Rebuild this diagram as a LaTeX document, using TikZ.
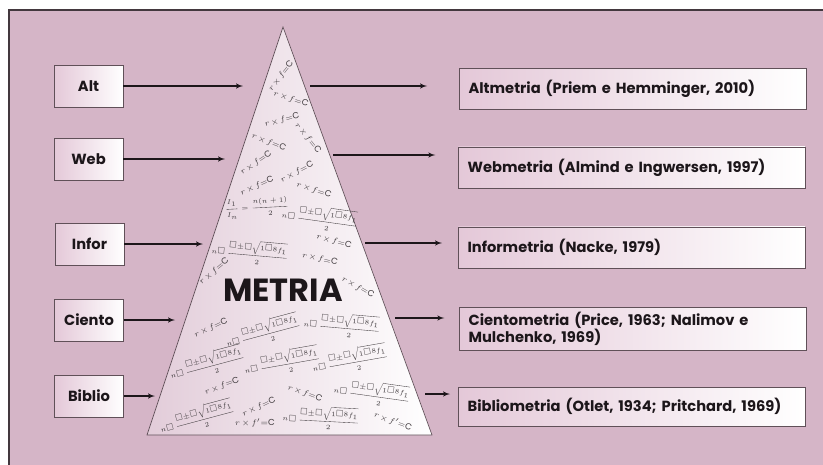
\documentclass[tikz,border=0pt]{standalone}
\usepackage{fontspec}
\usepackage{amsmath,amssymb}
\setmainfont{Poppins}
\usetikzlibrary{shapes,arrows}
\definecolor{mauve}{RGB}{213,181,199}
\definecolor{boxpink}{RGB}{228,200,216}
\definecolor{tripink}{RGB}{226,204,217}
\definecolor{edgegray}{RGB}{96,80,88}
\definecolor{inkdark}{RGB}{28,22,26}
\tikzstyle{block} = [rectangle, draw=edgegray, left color=boxpink, right color=white,
    text=inkdark, font=\bfseries\fontsize{11}{12}\selectfont,
    minimum width=52pt, minimum height=31.5pt]
\tikzstyle{refbox} = [rectangle, draw=edgegray, left color=boxpink, right color=white,
    text=inkdark, font=\bfseries\fontsize{11}{13}\selectfont, anchor=west,
    text width=246pt, align=left, inner xsep=7pt, minimum height=31pt]
\tikzstyle{formula} = [inner sep=0pt, text=inkdark!85, font=\fontsize{6.5}{7}\selectfont]
\tikzstyle{line} = [draw=inkdark, -latex', line width=0.8pt]
\newcommand{\rfc}{$r\,{\times}\,f{=}\mathrm{C}$}
\newcommand{\rfcp}{$r\,{\times}\,f'{=}\mathrm{C}$}
\newcommand{\nroot}{$\displaystyle n\square\,\frac{\square{\pm}\square\sqrt{1\square 8f_1}}{2}$}

\begin{document}
\begin{tikzpicture}[x=0.75pt, y=-0.75pt]
		\useasboundingbox (0,0) rectangle (823,464);
		% background
		\fill [mauve] (9,10) rectangle (840,480);
		\draw [edgegray!70!black, line width=0.8pt] (840,10) -- (9,10) -- (9,480);

		% pyramid
		\shade [left color=tripink, right color=white] (283,27) -- (147,435) -- (432,435) -- cycle;
		\draw [edgegray, line width=0.5pt] (283,27) -- (147,435) -- (432,435) -- cycle;

		\foreach \x/\y/\a [count=\i] in {281/76/52, 291/99/-18, 282/120/15, 308/138/-51,
		    269/142/-21, 256/163/34, 257/186/24, 297/172/27, 314/190/-18, 334/241/-15,
		    320/259/-12, 214/271/40, 358/287/-30, 211/328/25, 222/386/20, 305/393/-20,
		    259/407/25}
		    \node [formula, rotate=\a] (rf\i) at (\x,\y) {\rfc};
		\node [formula, rotate=0] (rfp1) at (255,423) {\rfcp};
		\node [formula, rotate=-20] (rfp2) at (393,421) {\rfcp};
		\foreach \x/\y/\a [count=\i] in {320/218/-8, 250/252/-5, 263/332/15, 342/325/-5,
		    207/364/15, 282/362/10, 350/360/10, 372/393/-8, 197/418/15, 321/418/-3}
		    \node [formula, font=\fontsize{5.5}{6}\selectfont, rotate=\a] (nr\i) at (\x,\y) {\nroot};
		\node [formula, font=\fontsize{5.5}{6}\selectfont, rotate=3] (ratio) at (257,208)
		    {$\displaystyle\frac{I_1}{I_n}=\frac{n(n+1)}{2}$};

		\node [text=inkdark, font=\bfseries\fontsize{24}{28}\selectfont] (metria) at (283,290) {METRIA};

		% left
		\node [block] (alt) at (88.5,86) {Alt};
		\node [block] (web) at (88.5,159) {Web};
		\node [block] (infor) at (89.5,244) {Infor};
		\node [block] (ciento) at (89,320) {Ciento};
		\node [block] (biblio) at (89,396) {Biblio};

		\coordinate (altin) at (243,86);
		\coordinate (webin) at (225,159);
		\coordinate (inforin) at (203,244);
		\coordinate (cientoin) at (175,320);
		\coordinate (biblioin) at (155,396);

		\path [line] (alt) -- (altin);
		\path [line] (web) -- (webin);
		\path [line] (infor) -- (inforin);
		\path [line] (ciento) -- (cientoin);
		\path [line] (biblio) -- (biblioin);

		% right
		\node [refbox] (altm) at (459,89) {Altmetria (Priem e Hemminger, 2010)};
		\node [refbox] (webm) at (458,167.5) {Webmetria (Almind e Ingwersen, 1997)};
		\node [refbox] (inform) at (458,247.5) {Informetria (Nacke, 1979)};
		\node [refbox] (cientom) at (459,328.5) {Cientometria (Price, 1963; Nalimov e\\Mulchenko, 1969)};
		\node [refbox, minimum height=29pt] (bibliom) at (458,406.5) {Bibliometria (Otlet, 1934; Pritchard, 1969)};

		\coordinate (altout) at (310,86);
		\coordinate (webout) at (333,155);
		\coordinate (inforout) at (365,243);
		\coordinate (cientoout) at (395,318);
		\coordinate (biblioout) at (425,394);

		\path [line, shorten >=24pt] (altout) -- (altout -| altm.west);
		\path [line, shorten >=17pt] (webout) -- (webout -| webm.west);
		\path [line, shorten >=12pt] (inforout) -- (inforout -| inform.west);
		\path [line, shorten >=11pt] (cientoout) -- (cientoout -| cientom.west);
		\path [line, shorten >=6pt] (biblioout) -- (biblioout -| bibliom.west);
	\end{tikzpicture}
\end{document}
